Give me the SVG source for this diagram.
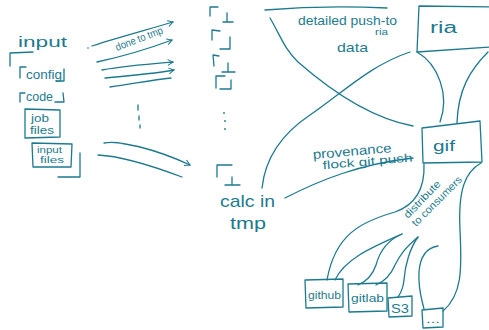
<svg xmlns="http://www.w3.org/2000/svg" width="489" height="330" viewBox="0 0 489 330">
<defs>
<style>
.s{fill:none;stroke:#1d7a8e;stroke-width:1.3;stroke-linecap:round;stroke-linejoin:round}
.t{fill:#1d7a8e;font-family:"Liberation Sans","DejaVu Sans",sans-serif}
</style>
<marker id="ah" viewBox="0 0 10 10" refX="9" refY="5" markerWidth="7" markerHeight="7" orient="auto" markerUnits="userSpaceOnUse">
<path d="M2,1 L9,5 L2,9" fill="none" stroke="#1d7a8e" stroke-width="1.4" stroke-linecap="round"/>
</marker>
</defs>
<rect width="489" height="330" fill="#ffffff"/>

<g id="input">
<text class="t" x="18" y="47" font-size="15" textLength="49" lengthAdjust="spacingAndGlyphs">input</text>
<path class="s" d="M10,66 L10,53 L33,52"/>
<path class="s" d="M58,177 L80,177 L80,153"/>
<circle cx="88" cy="48" r="0.8" fill="#1d7a8e"/>
</g>
<g id="config">
<path class="s" d="M20,78 L20,67 L26,67"/>
<text class="t" x="26" y="79" font-size="13" textLength="36" lengthAdjust="spacingAndGlyphs">config</text>
<path class="s" d="M56,81 L64,81 L64,69"/>
</g>
<g id="code">
<path class="s" d="M20,102 L20,93 L25,93"/>
<text class="t" x="26" y="101" font-size="12" textLength="27" lengthAdjust="spacingAndGlyphs">code</text>
<path class="s" d="M55,102 L64,102 L63,93"/>
</g>
<g id="job-files">
<path class="s" d="M25,109 L60,110 L60,137 L25,138 Z"/>
<text class="t" x="31" y="122" font-size="11" textLength="18" lengthAdjust="spacingAndGlyphs">job</text>
<text class="t" x="30" y="134" font-size="11" textLength="24" lengthAdjust="spacingAndGlyphs">files</text>
</g>
<g id="input-files">
<path class="s" d="M32,143 L72,144 L71,167 L33,167 Z"/>
<text class="t" x="37" y="153" font-size="9" textLength="25" lengthAdjust="spacingAndGlyphs">input</text>
<text class="t" x="40" y="163" font-size="9" textLength="24" lengthAdjust="spacingAndGlyphs">files</text>
</g>

<g id="done-to-tmp">
<text class="t" font-size="10.5" transform="translate(117,51) rotate(-21)" textLength="50" lengthAdjust="spacingAndGlyphs">done to tmp</text>
</g>

<g id="tmp-column">
<path class="s" d="M210,16 L210,7 L218,7"/>
<path class="s" d="M227,13 L227,22 M223,22 L233,22"/>
<path class="s" d="M212,40 L212,30 L220,31"/>
<path class="s" d="M230,37 L230,49 L220,49"/>
<path class="s" d="M214,66 L213,55 L219,56"/>
<path class="s" d="M228,63 L228,72 M222,72 L235,72"/>
<path class="s" d="M216,88 L216,76 L225,76"/>
<path class="s" d="M231,80 L231,89 L220,89"/>
<circle cx="224" cy="113" r="0.9" fill="#1d7a8e"/>
<circle cx="225" cy="121" r="0.9" fill="#1d7a8e"/>
<circle cx="225" cy="129" r="0.9" fill="#1d7a8e"/>
<path class="s" d="M217,177 L217,165 L232,165"/>
<path class="s" d="M232,177 L232,185 M225,185 L240,185"/>
</g>
<g id="calc-in-tmp">
<text class="t" x="220" y="207" font-size="17" textLength="55" lengthAdjust="spacingAndGlyphs">calc in</text>
<text class="t" x="230" y="229" font-size="17" textLength="36" lengthAdjust="spacingAndGlyphs">tmp</text>
</g>

<g id="detailed-data">
<path class="s" d="M265,10 Q325,5 387,8"/>
<text class="t" x="298" y="25" font-size="12" textLength="99" lengthAdjust="spacingAndGlyphs">detailed push-to</text>
<text class="t" x="375" y="35" font-size="9" textLength="13" lengthAdjust="spacingAndGlyphs">ria</text>
<text class="t" x="337" y="52" font-size="13" textLength="31" lengthAdjust="spacingAndGlyphs">data</text>
</g>
<g id="ria">
<path class="s" d="M492,7 L419,6 L417,52 L492,47"/>
<text class="t" x="430" y="33" font-size="16" textLength="27" lengthAdjust="spacingAndGlyphs">ria</text>
</g>
<g id="provenance">
<g transform="rotate(-5 360 155)">
<text class="t" x="313" y="155" font-size="13" textLength="79" lengthAdjust="spacingAndGlyphs">provenance</text>
<text class="t" x="322" y="166" font-size="11.5" textLength="90" lengthAdjust="spacingAndGlyphs">flock git push</text>
</g>
</g>
<g id="gif">
<path class="s" d="M422,128 L480,121 L482,162 L423,163 Z"/>
<text class="t" x="433" y="151" font-size="15" textLength="22" lengthAdjust="spacingAndGlyphs">gif</text>
</g>
<g id="distribute">
<text class="t" font-size="10.5" transform="translate(408,219) rotate(-46)" textLength="48" lengthAdjust="spacingAndGlyphs">distribute</text>
<text class="t" font-size="10.5" transform="translate(416,227) rotate(-45)" textLength="66" lengthAdjust="spacingAndGlyphs">to consumers</text>
</g>
<g id="github">
<path class="s" d="M305,280 L343,279 L343,307 L306,308 Z"/>
<text class="t" x="308" y="299" font-size="11" textLength="33" lengthAdjust="spacingAndGlyphs">github</text>
</g>
<g id="gitlab">
<path class="s" d="M348,284 L387,283 L387,311 L349,312 Z"/>
<text class="t" x="351" y="302" font-size="11" textLength="33" lengthAdjust="spacingAndGlyphs">gitlab</text>
</g>
<g id="s3">
<path class="s" d="M388,298 L412,296 L412,316 L389,317 Z"/>
<text class="t" x="391" y="313" font-size="13" textLength="18" lengthAdjust="spacingAndGlyphs">S3</text>
</g>
<g id="more">
<path class="s" d="M422,310 L443,308 L443,327 L423,328 Z"/>
<text class="t" x="426" y="323" font-size="11" textLength="14" lengthAdjust="spacingAndGlyphs">...</text>
</g>

<g id="connectors">
<path class="s" d="M92,46 C120,37 150,29 173,22" marker-end="url(#ah)"/>
<path class="s" d="M97,62 C120,57 148,49 172,40" marker-end="url(#ah)"/>
<path class="s" d="M102,70 C125,66 150,64 173,62" marker-end="url(#ah)"/>
<path class="s" d="M105,78 C128,76 152,74 174,70" marker-end="url(#ah)"/>
<path class="s" d="M110,87 C132,84 152,80 171,78"/>
<path class="s" d="M138,105 L138,110 M139,116 L139,120 M140,125 L140,128"/>
<path class="s" d="M104,143 C115,141 125,144 140,147 C160,152 175,158 190,165" marker-end="url(#ah)"/>
<path class="s" d="M98,155 C120,156 150,165 182,177"/>
<path class="s" d="M270,18 C280,35 285,50 298,62 C330,90 370,118 413,126"/>
<path class="s" d="M262,188 C265,160 280,135 310,115 C340,95 370,65 410,52"/>
<path class="s" d="M285,198 C320,180 360,164 413,158"/>
<path class="s" d="M417,52 C438,64 450,95 440,122"/>
<path class="s" d="M488,52 C470,70 458,90 457,123"/>
<path class="s" d="M424,164 C425,190 415,205 395,212 C360,222 335,235 327,280"/>
<path class="s" d="M481,163 C465,172 458,190 460,230 C462,270 462,295 443,311"/>
<path class="s" d="M402,234 C375,246 345,258 335,280"/>
<path class="s" d="M402,234 C388,240 380,250 376,265 C372,277 365,282 358,285"/>
<path class="s" d="M418,237 C405,248 400,255 395,265 C390,277 383,282 376,285"/>
<path class="s" d="M418,237 C410,248 405,265 404,280 C403,290 400,294 398,297"/>
<path class="s" d="M438,246 C425,248 420,258 419,272 C418,290 422,300 424,309"/>
</g>
</svg>
